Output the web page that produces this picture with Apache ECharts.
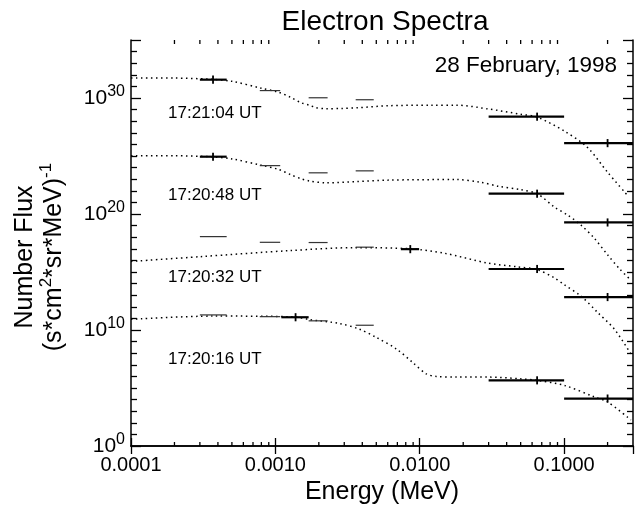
<!DOCTYPE html>
<html>
<head>
<meta charset="utf-8">
<script src="https://cdn.jsdelivr.net/npm/echarts@6.0.0/dist/echarts.min.js"></script>
<style>
  html, body { margin: 0; padding: 0; background: #fff; }
  #myChart { width: 638px; height: 510px; }
</style>
</head>
<body>
<div id="myChart"></div>
<script>
// energy in MeV, flux as log10 of number flux
const spectrumLabels = ['17:21:04 UT', '17:20:48 UT', '17:20:32 UT', '17:20:16 UT']
const xTickLabels = ['0.0001', '0.0010', '0.0100', '0.1000']
const yTickExponents = [0, 10, 20, 30]

// measured points with cross: [eLow, eHigh, eMid, log10 flux, log10 err]
const pts1 = [[0.0003, 0.00046, 0.00037, 31.58, 0.35], [0.03, 0.1, 0.065, 28.39, 0.35], [0.1, 0.4, 0.2, 26.11, 0.35]]
const pts2 = [[0.0003, 0.00046, 0.00037, 24.94, 0.35], [0.03, 0.1, 0.065, 21.75, 0.35], [0.1, 0.4, 0.2, 19.27, 0.35]]
const pts3 = [[0.0074, 0.0099, 0.0086, 16.97, 0.35], [0.03, 0.1, 0.065, 15.26, 0.35], [0.1, 0.4, 0.2, 12.84, 0.35]]
const pts4 = [[0.0011, 0.0017, 0.00138, 11.1, 0.35], [0.03, 0.1, 0.065, 5.66, 0.35], [0.1, 0.4, 0.2, 4.09, 0.35]]

// energy bins without cross: [eLow, eHigh, log10 flux]
const bins1 = [[0.00078, 0.00108, 30.64], [0.0017, 0.0023, 30.02], [0.0036, 0.0048, 29.85]]
const bins2 = [[0.00078, 0.00108, 24.17], [0.0017, 0.0023, 23.55], [0.0036, 0.0048, 23.72]]
const bins3 = [[0.0003, 0.00046, 18.05], [0.00078, 0.00108, 17.56], [0.0017, 0.0023, 17.54], [0.0036, 0.0048, 17.14]]
const bins4 = [[0.0003, 0.00046, 11.3], [0.00078, 0.00108, 11.15], [0.0017, 0.0023, 10.79], [0.0036, 0.0048, 10.41]]

// fitted spectra (dotted): [energy, log10 flux]
const fit1 = [[0.0001, 31.73], [0.0002, 31.72], [0.00035, 31.62], [0.0005, 31.44], [0.0008, 30.84], [0.00105, 30.5],
  [0.00128, 30.05], [0.0015, 29.6], [0.00172, 29.38], [0.0019, 29.18], [0.00225, 29.08], [0.0029, 29.1], [0.0037, 29.16],
  [0.006, 29.33], [0.012, 29.38], [0.018, 29.38], [0.03, 29.05], [0.05, 28.6], [0.065, 28.35], [0.1, 27.16],
  [0.145, 25.74], [0.2, 23.6], [0.275, 21.6]]
const fit2 = [[0.0001, 25.03], [0.0002, 25.02], [0.00035, 24.94], [0.0005, 24.75], [0.0008, 24.2], [0.00105, 23.85],
  [0.00128, 23.38], [0.0015, 23.05], [0.00172, 22.85], [0.00225, 22.69], [0.0037, 22.8], [0.006, 22.92], [0.018, 22.97],
  [0.026, 22.75], [0.035, 22.4], [0.05, 22.1], [0.065, 21.75], [0.0857, 20.6], [0.106, 19.9], [0.131, 19.04],
  [0.162, 17.9], [0.2, 16.48], [0.245, 15.2], [0.29, 14.3]]
const fit3 = [[0.0001, 15.91], [0.0003, 16.32], [0.00128, 16.85], [0.0036, 17.1], [0.0086, 17.0], [0.0148, 16.62],
  [0.0295, 15.77], [0.047, 15.45], [0.065, 15.2], [0.0857, 14.49], [0.1, 13.91], [0.131, 12.92], [0.171, 11.5],
  [0.223, 10.07], [0.29, 7.93]]
const fit4 = [[0.0001, 10.92], [0.00037, 11.2], [0.00138, 11.13], [0.00172, 10.9], [0.00278, 10.56], [0.00382, 10.07],
  [0.005, 9.36], [0.0069, 8.36], [0.0089, 7.22], [0.0111, 6.22], [0.013, 6.0], [0.018, 5.94], [0.03, 5.94],
  [0.05, 5.79], [0.065, 5.66], [0.1, 5.23], [0.162, 4.23], [0.2, 3.8], [0.29, 2.24]]

const xMin = Math.log10(0.0001)
const xMax = Math.log10(0.3)
const yMin = 0
const yMax = 35
const font = 'Liberation Sans, Arial, sans-serif'
const lg = Math.log10

// minor ticks 2..9 in each decade (log axis decoration)
const minorX = []
for (let d = -4; d <= -1; d++) {
  for (let k = 2; k <= 9; k++) {
    const v = d + lg(k)
    if (v < xMax - 1e-6) minorX.push([v])
  }
}

const myChart = echarts.init(document.getElementById('myChart'))

function fitSeries(fit) {
  return {
    type: 'line',
    data: fit.map(p => [lg(p[0]), p[1]]),
    smooth: 0.3,
    symbol: 'none',
    silent: true,
    lineStyle: { color: '#000', width: 1.5, type: [1.5, 3.5] },
    z: 2
  }
}

function pointSeries(pts) {
  return {
    type: 'custom',
    clip: true,
    silent: true,
    data: pts.map(p => [lg(p[0]), lg(p[1]), lg(p[2]), p[3], p[4]]),
    renderItem: function(params, api) {
      const a = api.coord([api.value(0), api.value(3)])
      const b = api.coord([api.value(1), api.value(3)])
      const c = api.coord([api.value(2), api.value(3) + api.value(4)])
      const d = api.coord([api.value(2), api.value(3) - api.value(4)])
      return {
        type: 'group',
        children: [
          { type: 'line', shape: { x1: a[0], y1: a[1], x2: b[0], y2: b[1] }, style: { stroke: '#000', lineWidth: 2.2 } },
          { type: 'line', shape: { x1: c[0], y1: c[1], x2: d[0], y2: d[1] }, style: { stroke: '#000', lineWidth: 1.8 } }
        ]
      }
    },
    z: 3
  }
}

function binSeries(bins) {
  return {
    type: 'custom',
    clip: true,
    silent: true,
    data: bins.map(p => [lg(p[0]), lg(p[1]), p[2]]),
    renderItem: function(params, api) {
      const a = api.coord([api.value(0), api.value(2)])
      const b = api.coord([api.value(1), api.value(2)])
      return { type: 'line', shape: { x1: a[0], y1: a[1], x2: b[0], y2: b[1] }, style: { stroke: '#333', lineWidth: 1.2 } }
    },
    z: 3
  }
}

const minorTickSeries = {
  type: 'custom',
  silent: true,
  data: minorX,
  renderItem: function(params, api) {
    const b = api.coord([api.value(0), yMin])
    const t = api.coord([api.value(0), yMax])
    return {
      type: 'group',
      children: [
        { type: 'line', shape: { x1: b[0], y1: b[1], x2: b[0], y2: b[1] - 4 }, style: { stroke: '#000', lineWidth: 1.3 } },
        { type: 'line', shape: { x1: t[0], y1: t[1], x2: t[0], y2: t[1] + 4 }, style: { stroke: '#000', lineWidth: 1.3 } }
      ]
    }
  },
  z: 4
}

const axisLine = { show: true, lineStyle: { color: '#000', width: 1.5 } }
const yRich = {
  b: { fontSize: 21, fontFamily: font, color: '#000', verticalAlign: 'middle' },
  s: { fontSize: 16, fontFamily: font, color: '#000', verticalAlign: 'top', padding: [0, 0, 12, 0] }
}

const option = {
  animation: false,
  backgroundColor: '#fff',
  grid: { left: 131, right: 5, top: 40, bottom: 60, containLabel: false },
  xAxis: [
    {
      type: 'value',
      position: 'bottom',
      min: xMin,
      max: xMax,
      interval: 1,
      axisLine: axisLine,
      axisTick: { show: true, inside: true, length: 8, lineStyle: { color: '#000', width: 1.3 } },
      splitLine: { show: false },
      axisLabel: {
        margin: 9,
        fontSize: 20,
        fontFamily: font,
        color: '#000',
        showMaxLabel: false,
        formatter: v => xTickLabels[Math.round(v - xMin)] || ''
      },
      name: 'Energy (MeV)',
      nameLocation: 'middle',
      nameGap: 34,
      nameTextStyle: { fontSize: 25, fontFamily: font, color: '#000' }
    },
    {
      type: 'value',
      position: 'top',
      min: xMin,
      max: xMax,
      interval: 1,
      axisLine: axisLine,
      axisTick: { show: true, inside: true, length: 8, lineStyle: { color: '#000', width: 1.3 } },
      splitLine: { show: false },
      axisLabel: { show: false }
    }
  ],
  yAxis: [
    {
      type: 'value',
      position: 'left',
      min: yMin,
      max: yMax,
      interval: 10,
      axisLine: axisLine,
      axisTick: { show: true, inside: true, length: 10, lineStyle: { color: '#000', width: 1.3 } },
      minorTick: { show: true, splitNumber: 10, length: 6, lineStyle: { color: '#000', width: 1.3 } },
      splitLine: { show: false },
      axisLabel: {
        margin: 6,
        showMaxLabel: false,
        formatter: v => yTickExponents.indexOf(v) >= 0 ? '{b|10}{s|' + v + '}' : '',
        rich: yRich
      }
    },
    {
      type: 'value',
      position: 'right',
      min: yMin,
      max: yMax,
      interval: 10,
      axisLine: axisLine,
      axisTick: { show: true, inside: true, length: 10, lineStyle: { color: '#000', width: 1.3 } },
      minorTick: { show: true, splitNumber: 10, length: 6, lineStyle: { color: '#000', width: 1.3 } },
      splitLine: { show: false },
      axisLabel: { show: false }
    }
  ],
  graphic: [
    {
      type: 'text', x: 385, y: 22,
      style: { text: 'Electron Spectra', font: '28px ' + font, fill: '#000', align: 'center', verticalAlign: 'middle' }
    },
    {
      type: 'text', x: 617, y: 66,
      style: { text: '28 February, 1998', font: '22.5px ' + font, fill: '#000', align: 'right', verticalAlign: 'middle' }
    },
    {
      type: 'text', x: 38, y: 257, rotation: Math.PI / 2,
      style: {
        text: '{n|Number Flux}\n{n|(s*cm}{s|2}{n|*sr*MeV)}{s|-1}',
        align: 'center',
        verticalAlign: 'middle',
        rich: {
          n: { fontSize: 25, fontFamily: font, color: '#000', lineHeight: 29, verticalAlign: 'bottom' },
          s: { fontSize: 17, fontFamily: font, color: '#000', lineHeight: 17, verticalAlign: 'top' }
        }
      }
    },
    { type: 'text', x: 168, y: 113, style: { text: spectrumLabels[0], font: '17px ' + font, fill: '#000', verticalAlign: 'middle' } },
    { type: 'text', x: 168, y: 195, style: { text: spectrumLabels[1], font: '17px ' + font, fill: '#000', verticalAlign: 'middle' } },
    { type: 'text', x: 168, y: 277, style: { text: spectrumLabels[2], font: '17px ' + font, fill: '#000', verticalAlign: 'middle' } },
    { type: 'text', x: 168, y: 359, style: { text: spectrumLabels[3], font: '17px ' + font, fill: '#000', verticalAlign: 'middle' } }
  ],
  series: [
    fitSeries(fit1), fitSeries(fit2), fitSeries(fit3), fitSeries(fit4),
    binSeries(bins1), binSeries(bins2), binSeries(bins3), binSeries(bins4),
    pointSeries(pts1), pointSeries(pts2), pointSeries(pts3), pointSeries(pts4),
    minorTickSeries
  ]
}
myChart.setOption(option)
</script>
</body>
</html>
